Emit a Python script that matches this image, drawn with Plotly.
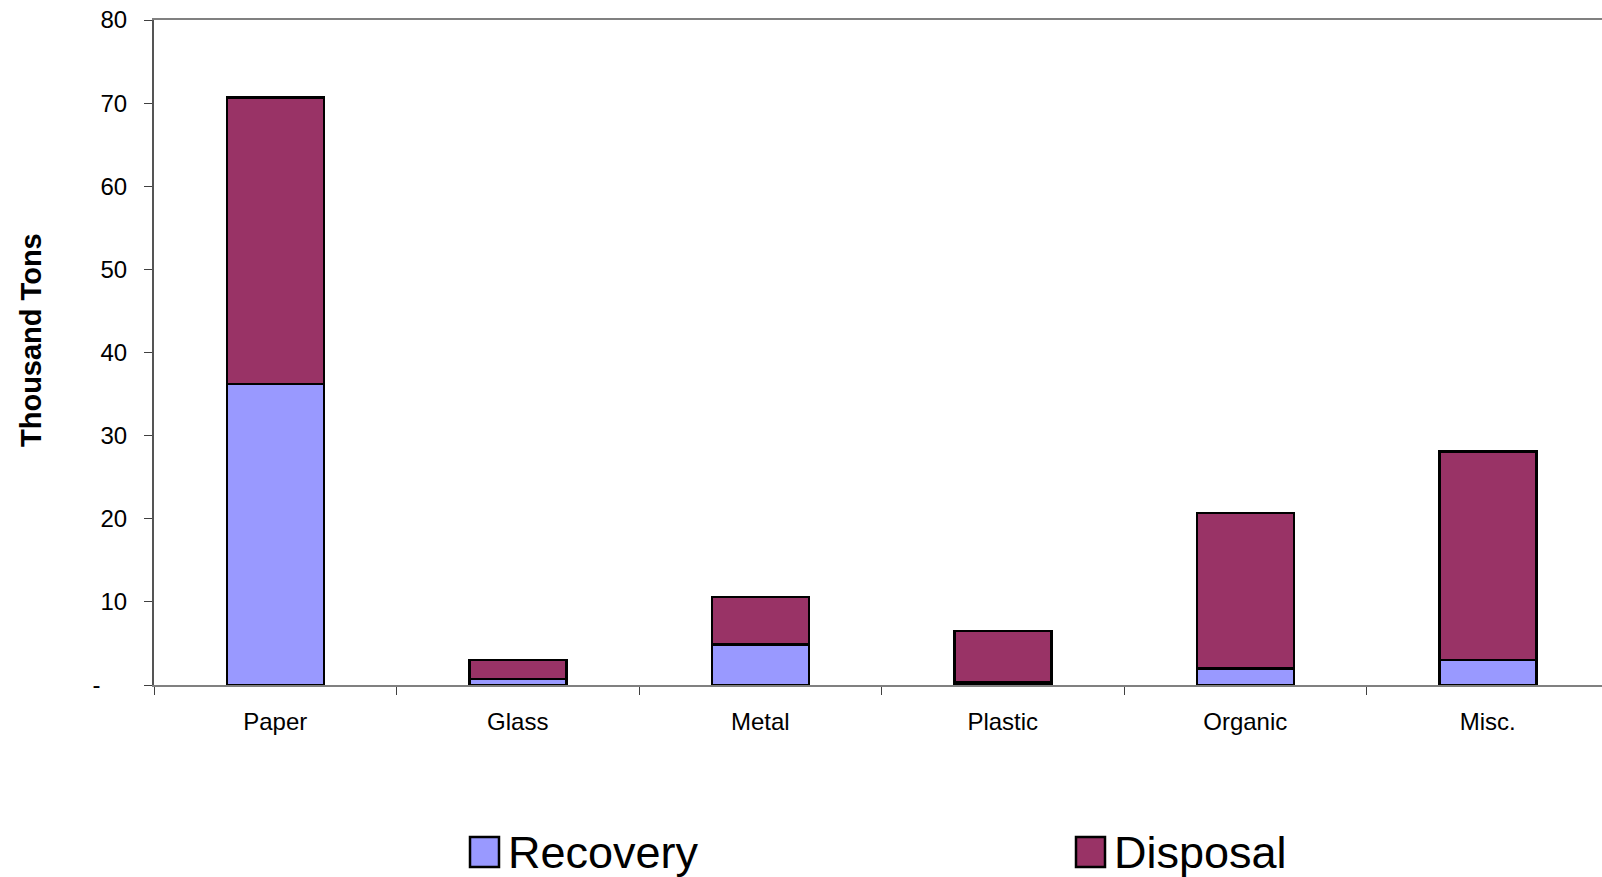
import plotly.graph_objects as go

# Waste stream by material, thousand tons
categories = ["Paper", "Glass", "Metal", "Plastic", "Organic", "Misc."]
recovery = [36.2, 0.7, 4.9, 0.3, 2.0, 3.0]
disposal = [34.5, 2.3, 5.7, 6.2, 18.7, 25.1]
ytick_vals = [0, 10, 20, 30, 40, 50, 60, 70, 80]
ytick_text = ["-\u00a0\u00a0\u00a0\u00a0", "10", "20", "30", "40", "50", "60", "70", "80"]

RECOVERY_COLOR = "#9999FF"
DISPOSAL_COLOR = "#993366"
FONT = "Liberation Sans, Arial, sans-serif"

fig = go.Figure()
fig.add_trace(go.Bar(
    name="Recovery", x=categories, y=recovery, width=0.4,
    marker=dict(color=RECOVERY_COLOR, line=dict(color="black", width=2.5)),
    showlegend=False,
))
fig.add_trace(go.Bar(
    name="Disposal", x=categories, y=disposal, width=0.4,
    marker=dict(color=DISPOSAL_COLOR, line=dict(color="black", width=2.5)),
    showlegend=False,
))

fig.update_layout(
    barmode="stack",
    width=1602, height=877,
    margin=dict(l=154, r=0, t=20, b=192),
    paper_bgcolor="white", plot_bgcolor="white",
    font=dict(family=FONT, size=24, color="black"),
    xaxis=dict(
        type="category",
        range=[-0.5, 5.471],
        showline=True, linecolor="#808080", linewidth=2, mirror=True,
        ticks="outside", tickson="boundaries", ticklen=8, tickcolor="#404040", tickwidth=1,
        showgrid=False, zeroline=False,
        tickfont=dict(size=24),
        ticklabelstandoff=14,
    ),
    yaxis=dict(
        range=[0, 80],
        tickvals=ytick_vals, ticktext=ytick_text,
        showline=True, linecolor="#555555", linewidth=2,
        ticks="outside", ticklen=8, tickcolor="#404040", tickwidth=1,
        showgrid=False, zeroline=False,
        tickfont=dict(size=24),
        ticklabelstandoff=12,
    ),
)

# Axis title
fig.add_annotation(
    text="<b>Thousand Tons</b>", textangle=-90,
    xref="paper", yref="paper",
    x=(31 - 154) / 1448, y=(685 - 340) / 665,
    xanchor="center", yanchor="middle", showarrow=False,
    font=dict(size=29, family=FONT, color="black"),
)

# Legend: colour swatches with labels
legend_items = [("Recovery", RECOVERY_COLOR, 470), ("Disposal", DISPOSAL_COLOR, 1076)]
for label, color, px in legend_items:
    x0 = (px - 154) / 1448
    x1 = (px + 29 - 154) / 1448
    y0 = (685 - 867) / 665
    y1 = (685 - 837) / 665
    fig.add_shape(type="rect", xref="paper", yref="paper",
                  x0=x0, x1=x1, y0=y0, y1=y1,
                  fillcolor=color, line=dict(color="black", width=2.5))
    fig.add_annotation(
        text=label, xref="paper", yref="paper",
        x=(px + 36 - 154) / 1448, y=(685 - 852) / 665,
        xanchor="left", yanchor="middle", showarrow=False,
        font=dict(size=45, family=FONT, color="black"),
    )

fig.write_html("out.html")
